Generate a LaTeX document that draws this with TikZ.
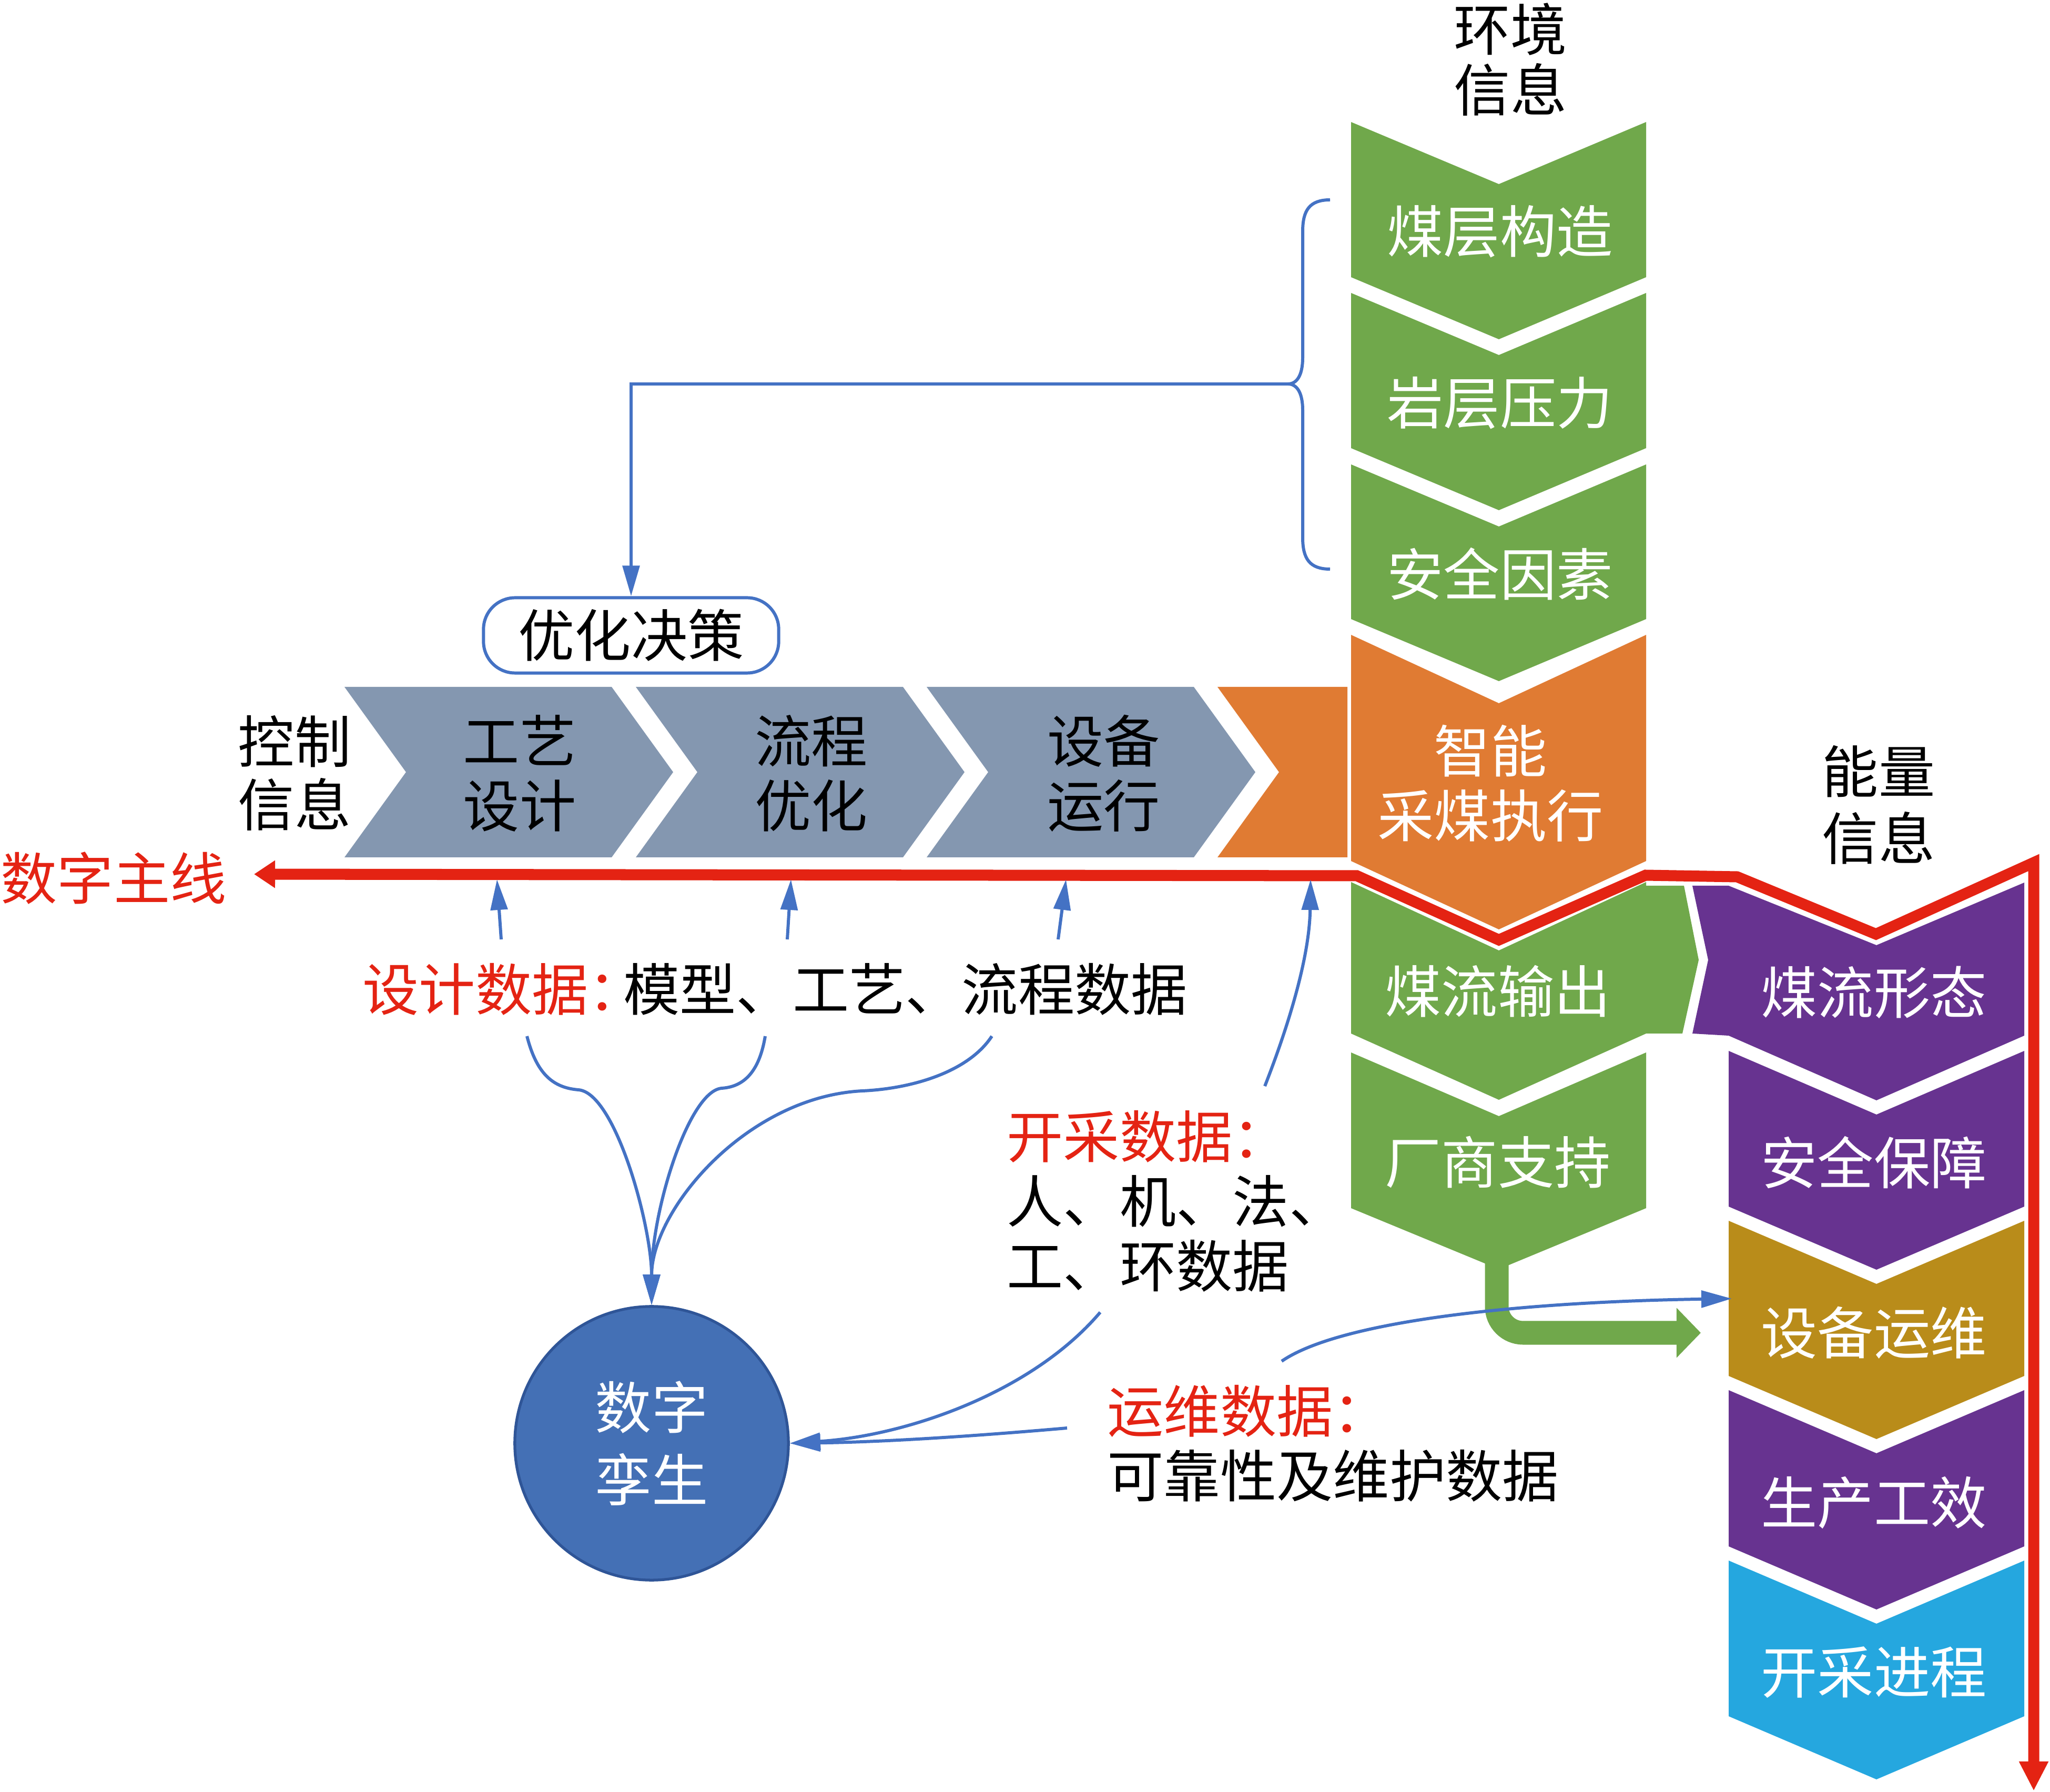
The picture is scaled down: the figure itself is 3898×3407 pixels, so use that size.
\documentclass[tikz,border=0pt]{standalone}
\usepackage{fontspec}
\setmainfont{Noto Sans CJK SC}
\usepackage{xcolor}
\usetikzlibrary{arrows.meta, positioning}

\definecolor{chgray}{HTML}{8497B0}
\definecolor{chgreen}{HTML}{70A84B}
\definecolor{chorange}{HTML}{E07B33}
\definecolor{chpurple}{HTML}{673390}
\definecolor{chgold}{HTML}{B98C1A}
\definecolor{chcyan}{HTML}{25A7DF}
\definecolor{lnblue}{HTML}{4472C4}
\definecolor{twinblue}{HTML}{4470B5}
\definecolor{twinedge}{HTML}{2F5597}
\definecolor{mainred}{HTML}{E42313}

\begin{document}
\begin{tikzpicture}[x=0.01cm, y=-0.01cm, node distance=3.23cm, >={Triangle[length=0.58cm, width=0.32cm]}]
        % Définition des styles
        \tikzstyle{txt} = [font=\fontsize{30.5}{35}\selectfont, inner sep=0pt, align=center]
        \tikzstyle{whitetxt} = [txt, text=white]
        \tikzstyle{flow} = [draw=lnblue, line width=1.7pt]
        \tikzstyle{mainline} = [draw=mainred, line width=0.21cm, line join=miter]
        \tikzstyle{roundbox} = [draw=lnblue, line width=1.7pt, rounded corners=0.6cm, minimum width=5.61cm, minimum height=1.43cm, fill=white]

        \useasboundingbox (0,0) rectangle (3898,3407);

        % Chevrons horizontaux - chaîne de commande
        \fill[chgray] (655,1306) -- (1163,1306) -- (1280,1468) -- (1163,1630) -- (655,1630) -- (772,1468) -- cycle;
        \fill[chgray] (1209,1306) -- (1717,1306) -- (1834,1468) -- (1717,1630) -- (1209,1630) -- (1326,1468) -- cycle;
        \fill[chgray] (1762,1306) -- (2270,1306) -- (2387,1468) -- (2270,1630) -- (1762,1630) -- (1879,1468) -- cycle;
        \fill[chorange] (2315,1306) -- (2562,1306) -- (2562,1630) -- (2315,1630) -- (2432,1468) -- cycle;

        % Colonne verticale - environnement et exécution
        \fill[chgreen] (2569,232) -- (2850,350) -- (3130,232) -- (3130,527) -- (2850,645) -- (2569,527) -- cycle;
        \fill[chgreen] (2569,557) -- (2850,675) -- (3130,557) -- (3130,852) -- (2850,970) -- (2569,852) -- cycle;
        \fill[chgreen] (2569,883) -- (2850,1001) -- (3130,883) -- (3130,1177) -- (2850,1295) -- (2569,1177) -- cycle;
        \fill[chorange] (2569,1207) -- (2850,1337) -- (3130,1207) -- (3130,1637) -- (2850,1767) -- (2569,1637) -- cycle;
        \fill[chgreen] (2569,1677) -- (2850,1807) -- (3130,1677) -- (3130,1684) -- (3202,1684) -- (3230,1825) -- (3199,1965) -- (3130,1965) -- (2850,2091) -- (2569,1965) -- cycle;
        \fill[chgreen] (2569,2001) -- (2850,2122) -- (3130,2001) -- (3130,2297) -- (2850,2413) -- (2569,2297) -- cycle;

        % Colonne verticale - énergie
        \fill[chpurple] (3218,1684) -- (3287,1684) -- (3568,1797) -- (3849,1678) -- (3849,1969) -- (3568,2092) -- (3287,1969) -- (3218,1965) -- (3248,1825) -- cycle;
        \fill[chpurple] (3287,1998) -- (3568,2119) -- (3849,1998) -- (3849,2294) -- (3568,2414) -- (3287,2294) -- cycle;
        \fill[chgold] (3287,2321) -- (3568,2441) -- (3849,2321) -- (3849,2616) -- (3568,2736) -- (3287,2616) -- cycle;
        \fill[chpurple] (3287,2643) -- (3568,2763) -- (3849,2643) -- (3849,2940) -- (3568,3060) -- (3287,2940) -- cycle;
        \fill[chcyan] (3287,2967) -- (3568,3087) -- (3849,2967) -- (3849,3263) -- (3568,3383) -- (3287,3263) -- cycle;

        % Textes des chevrons
        \node[txt] (design) at (988,1470) {工艺\\设计};
        \node[txt, right of=design, node distance=5.54cm] (process) {流程\\优化};
        \node[txt, right of=process, node distance=5.56cm] (equip) {设备\\运行};

        \node[whitetxt] (geo) at (2852,440) {煤层构造};
        \node[whitetxt, below of=geo, node distance=3.26cm] (rock) {岩层压力};
        \node[whitetxt, below of=rock, node distance=3.25cm] (safety) {安全因素};
        \node[whitetxt] (exec) at (2834,1489) {智能\\采煤执行};
        \node[whitetxt] (coalout) at (2848,1885) {煤流输出};
        \node[whitetxt, below of=coalout, node distance=3.24cm] (vendor) {厂商支持};

        \node[whitetxt] (coalform) at (3563,1887) {煤流形态};
        \node[whitetxt, below of=coalform] (guard) {安全保障};
        \node[whitetxt, below of=guard] (upkeep) {设备运维};
        \node[whitetxt, below of=upkeep] (yield) {生产工效};
        \node[whitetxt, below of=yield] (progress) {开采进程};

        % Étiquettes d'information
        \node[txt, font=\fontsize{30.5}{32.5}\selectfont] (envinfo) at (2872,113) {环境\\信息};
        \node[txt, font=\fontsize{30.5}{34}\selectfont] (ctrlinfo) at (560,1470) {控制\\信息};
        \node[txt, font=\fontsize{30.5}{36}\selectfont] (enginfo) at (3572,1530) {能量\\信息};
        \node[txt, text=mainred] (thread) at (216,1670) {数字主线};

        % Décision et jumeau numérique
        \node[txt, roundbox] (decision) at (1200,1208) {优化决策};
        \node[whitetxt, circle, draw=twinedge, fill=twinblue, line width=1.5pt, minimum size=5.2cm, font=\fontsize{30.5}{39}\selectfont] (twin) at (1239,2744) {数字\\孪生};

        % Blocs de données
        \node[txt, anchor=west] (designdata) at (689,1881) {\textcolor{mainred}{设计数据\makebox[0.62em][l]{：}}模型、工艺、流程数据};
        \node[txt, anchor=west, align=left] (minedata) at (1914,2284) {\textcolor{mainred}{开采数据：}\\人、机、法、\\工、环数据};
        \node[txt, anchor=west, align=left] (opsdata) at (2105,2744) {\textcolor{mainred}{运维数据：}\\可靠性及维护数据};

        % Accolade et retour vers la décision
        \coordinate (bracetip) at (2449,730);
        \draw[flow] (2529,380) .. controls (2490,380) and (2477,400) .. (2477,440) -- (2477,680) .. controls (2477,715) and (2465,730) .. (bracetip) .. controls (2465,730) and (2477,745) .. (2477,780) -- (2477,1022) .. controls (2477,1062) and (2490,1082) .. (2529,1082);
        \draw[flow, ->] (bracetip) -| (decision.north);

        % Fil numérique
        \coordinate (threadstart) at (483,1662);
        \coordinate (threadend) at (3867,3405);
        \draw[mainline, {Triangle[length=0.4cm, width=0.5cm]}-{Triangle[length=0.56cm, width=0.52cm]}] (threadstart) -- (2580,1665) -- (2850,1787) -- (3129,1664) -- (3303,1667) -- (3567,1776) -- (3867,1640) -- (threadend);

        % Flèche verte vers la maintenance
        \coordinate (vendortip) at (2846,2400);
        \coordinate (greenend) at (3234,2534);
        \draw[line width=0.45cm, draw=chgreen, rounded corners=0.5cm, -{Triangle[length=0.46cm, width=0.92cm]}] (vendortip) |- (greenend);

        % Données vers le fil numérique
        \coordinate (d1) at (953,1786);
        \coordinate (m1) at (945,1672);
        \coordinate (d2) at (1497,1786);
        \coordinate (m2) at (1504,1672);
        \coordinate (d3) at (2012,1786);
        \coordinate (m3) at (2027,1672);
        \coordinate (d4) at (2405,2065);
        \coordinate (m4) at (2492,1672);
        \draw[flow, ->] (d1) -- (m1);
        \draw[flow, ->] (d2) -- (m2);
        \draw[flow, ->] (d3) -- (m3);
        \draw[flow, ->] (d4) .. controls (2450,1950) and (2490,1820) .. (m4);

        % Données vers le jumeau
        \coordinate (a1) at (1002,1970);
        \coordinate (a2) at (1455,1970);
        \coordinate (a3) at (1886,1970);
        \draw[flow, ->] (a1) .. controls (1020,2040) and (1050,2068) .. (1100,2072) .. controls (1170,2078) and (1239,2330) .. (twin.north);
        \draw[flow, ->] (a2) .. controls (1445,2030) and (1420,2066) .. (1372,2069) .. controls (1310,2075) and (1239,2300) .. (twin.north);
        \draw[flow, ->] (a3) .. controls (1840,2040) and (1730,2070) .. (1640,2074) .. controls (1420,2085) and (1239,2300) .. (twin.north);

        \coordinate (b1) at (2092,2495);
        \coordinate (b2) at (2029,2715);
        \coordinate (b3) at (2437,2588);
        \coordinate (opsin) at (3293,2469);
        \draw[flow, ->] (b1) .. controls (1960,2650) and (1720,2730) .. (twin.east);
        \draw[flow, ->] (b2) .. controls (1800,2735) and (1650,2742) .. (twin.east);
        \draw[flow, ->] (b3) .. controls (2550,2510) and (2900,2475) .. (opsin);

    \end{tikzpicture}
\end{document}
